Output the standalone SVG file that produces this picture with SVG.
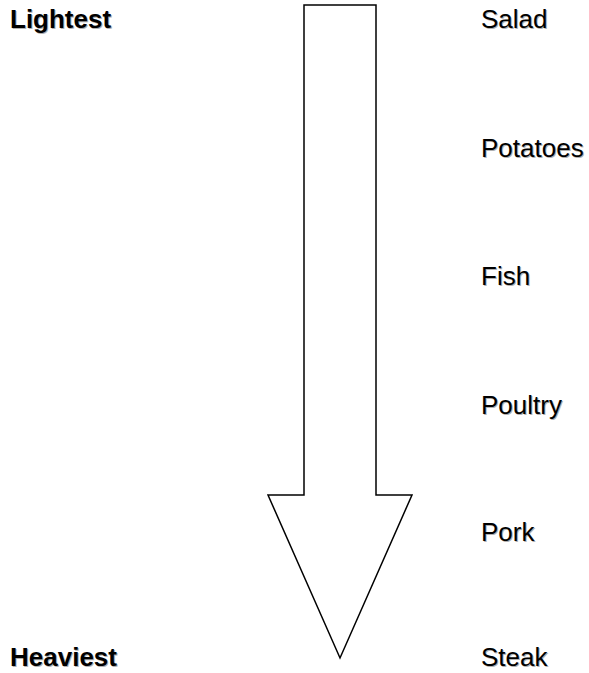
<svg xmlns="http://www.w3.org/2000/svg" width="589" height="673" viewBox="0 0 589 673">
<style>
text{font-family:"Liberation Sans",Arial,sans-serif;font-size:26px;fill:#000}
.b{font-weight:bold}
.sh{fill:#b0b0b0}
.arrow{fill:#fff;stroke:#000;stroke-width:1.5}
</style>
<rect width="589" height="673" fill="#fff"/>
<g id="connectors">
<polygon class="arrow" points="304,5 376,5 376,495 412,495 340,658 268,495 304,495"/>
</g>
<g id="lightest"><text class="b sh" x="11" y="29">Lightest</text><text class="b" x="10" y="28">Lightest</text></g>
<g id="heaviest"><text class="b sh" x="11" y="667">Heaviest</text><text class="b" x="10" y="666">Heaviest</text></g>
<g id="salad"><text class="sh" x="482" y="29">Salad</text><text x="481" y="28">Salad</text></g>
<g id="potatoes"><text class="sh" x="482" y="158">Potatoes</text><text x="481" y="157">Potatoes</text></g>
<g id="fish"><text class="sh" x="482" y="286">Fish</text><text x="481" y="285">Fish</text></g>
<g id="poultry"><text class="sh" x="482" y="415">Poultry</text><text x="481" y="414">Poultry</text></g>
<g id="pork"><text class="sh" x="482" y="542">Pork</text><text x="481" y="541">Pork</text></g>
<g id="steak"><text class="sh" x="482" y="667">Steak</text><text x="481" y="666">Steak</text></g>
</svg>
